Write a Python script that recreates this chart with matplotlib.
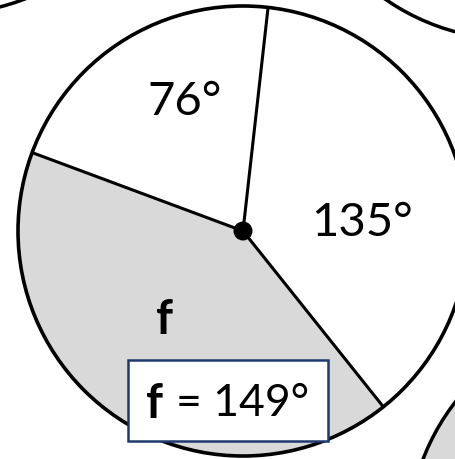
import matplotlib
matplotlib.use("Agg")
import matplotlib.pyplot as plt
from matplotlib.patches import Wedge, Circle, Rectangle
import numpy as np

# data
sector_angles = [76, 149, 135]          # degrees, counter-clockwise from the top radius
sector_labels = ["76°", "f", "135°"]
sector_fill = ["white", "#d9d9d9", "white"]
answer_text = "= 149°"
start_angle = 83.6

W, H = 456, 460
fig = plt.figure(figsize=(W / 100, H / 100), dpi=100)
ax = fig.add_axes([0, 0, 1, 1])
ax.set_xlim(0, W)
ax.set_ylim(0, H)
ax.set_aspect("equal")
ax.axis("off")

def Y(y):
    return H - y

cx, cy, R = 243, Y(232), 225
font = "Lato"

# neighbouring partial circles
ax.add_patch(Circle((513.8, Y(-184.5)), R, fc="white", ec="black", lw=2.5))
ax.add_patch(Circle((-56, Y(-210)), R, fc="white", ec="black", lw=2.5))
ax.add_patch(Circle((633, Y(541)), R, fc="#d9d9d9", ec="black", lw=2.5))

# sectors
a = start_angle
edges = [a]
for ang, fill in zip(sector_angles, sector_fill):
    ax.add_patch(Wedge((cx, cy), R, a, a + ang, fc=fill, ec="none"))
    a += ang
    edges.append(a)
ax.add_patch(Circle((cx, cy), R, fc="none", ec="black", lw=2.6, zorder=3))
for e in edges[:-1]:
    t = np.deg2rad(e)
    ax.plot([cx, cx + R * np.cos(t)], [cy, cy + R * np.sin(t)], color="black", lw=2.2,
            solid_capstyle="butt", zorder=3)
ax.add_patch(Circle((cx, cy), 9.5, fc="black", ec="none", zorder=4))

# labels
ax.text(185, Y(102), sector_labels[0], fontsize=34, family=font, ha="center", va="center")
ax.text(362, Y(223), sector_labels[2], fontsize=34, family=font, ha="center", va="center")
ax.text(165, Y(320), sector_labels[1], fontsize=34, family=font, weight="bold",
        ha="center", va="center")

# answer box
ax.add_patch(Rectangle((128, Y(442)), 200, 81, fc="white", ec="#1f3a6e", lw=1.8, zorder=5))
ax.text(146, Y(404), "f", fontsize=34, family=font, weight="bold", ha="left", va="center", zorder=6)
ax.text(176, Y(404), answer_text, fontsize=32, family=font, ha="left", va="center", zorder=6)

fig.savefig("out.png", dpi=100)
